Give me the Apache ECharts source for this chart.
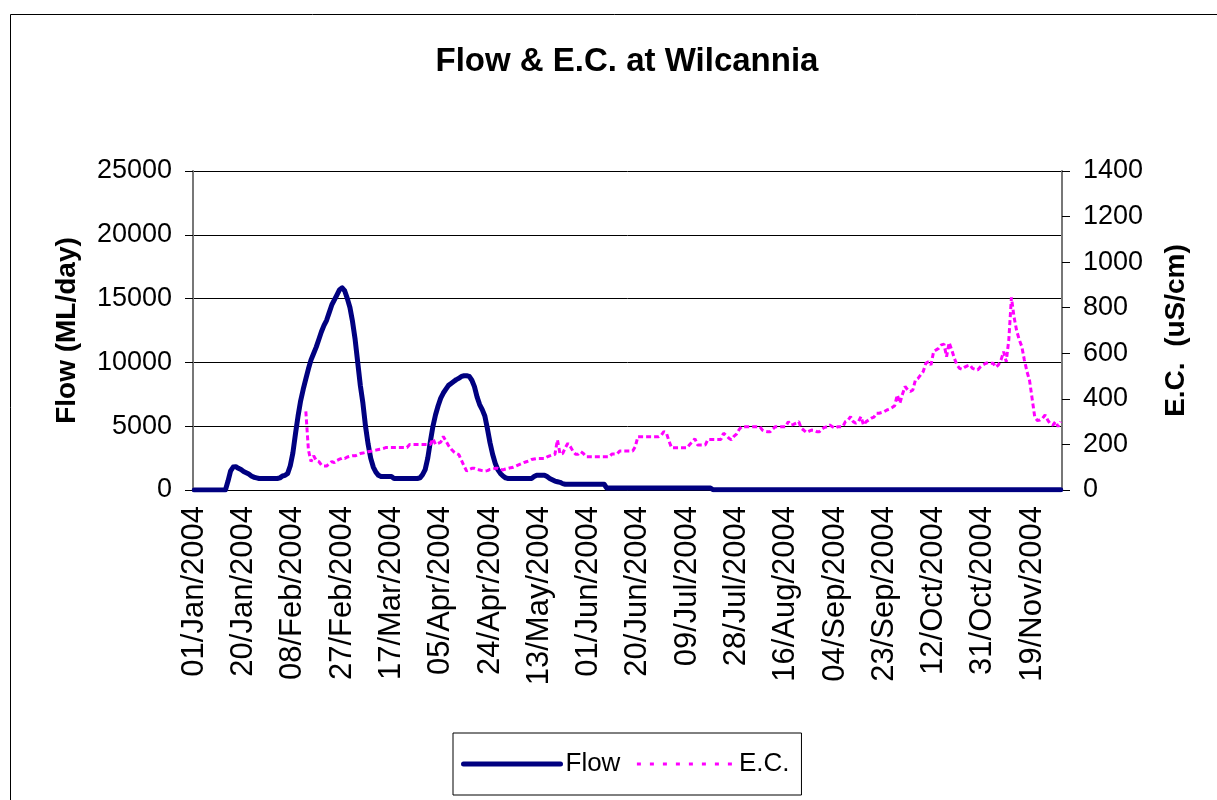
<!DOCTYPE html>
<html>
<head>
<meta charset="utf-8">
<script src="https://cdn.jsdelivr.net/npm/echarts@6/dist/echarts.min.js"></script>
<style>
html,body{margin:0;padding:0;background:#fff;}
#chart{width:1217px;height:800px;}
</style>
</head>
<body>
<div id="chart"></div>
<script>
// Flow (ML/day), one value per day from 01/Jan/2004 to 30/Nov/2004
const flowValues = [
  0,0,0,0,0,0,0,0,0,0,
  0,0,0,700,1500,1800,1830,1700,1600,1450,
  1350,1250,1100,1000,950,900,900,900,900,900,
  900,900,900,950,1100,1150,1300,1900,2900,4400,
  5800,7000,7900,8700,9500,10200,10700,11200,11800,12400,
  12900,13300,13900,14500,14900,15300,15700,15850,15600,15000,
  14300,13200,11800,10000,8200,6800,5000,3600,2500,1800,
  1400,1150,1050,1050,1050,1050,1050,900,900,900,
  900,900,900,900,900,900,900,950,1200,1600,
  2500,3800,5000,5900,6600,7200,7600,7900,8200,8350,
  8500,8650,8750,8900,8950,8950,8900,8600,8100,7300,
  6700,6300,5800,4800,3700,2800,2100,1600,1300,1100,
  950,900,900,900,900,900,900,900,900,900,
  900,1050,1150,1150,1150,1150,1050,900,800,700,
  650,600,500,450,450,450,450,450,450,450,
  450,450,450,450,450,450,450,450,450,150,
  150,150,150,150,150,150,150,150,150,150,
  150,150,150,150,150,150,150,150,150,150,
  150,150,150,150,150,150,150,150,150,150,
  150,150,150,150,150,150,150,150,150,150,
  20,20,20,20,20,20,20,20,20,20,
  20,20,20,20,20,20,20,20,20,20,
  20,20,20,20,20,20,20,20,20,20,
  20,20,20,20,20,20,20,20,20,20,
  20,20,20,20,20,20,20,20,20,20,
  20,20,20,20,20,20,20,20,20,20,
  20,20,20,20,20,20,20,20,20,20,
  20,20,20,20,20,20,20,20,20,20,
  20,20,20,20,20,20,20,20,20,20,
  20,20,20,20,20,20,20,20,20,20,
  20,20,20,20,20,20,20,20,20,20,
  20,20,20,20,20,20,20,20,20,20,
  20,20,20,20,20,20,20,20,20,20,
  20,20,20,20,20
];

// E.C. (uS/cm), one value per day (no readings before mid-February)
const ecValues = [
  null,null,null,null,null,null,null,null,null,null,
  null,null,null,null,null,null,null,null,null,null,
  null,null,null,null,null,null,null,null,null,null,
  null,null,null,null,null,null,null,null,null,null,
  null,null,null,345,175,125,150,130,125,110,
  105,105,115,125,120,130,135,140,138,145,
  148,150,150,155,160,162,165,168,170,173,
  175,178,180,183,187,187,187,187,187,187,
  187,187,187,200,200,200,200,200,200,200,
  200,200,225,200,205,210,235,215,195,180,
  168,160,155,130,105,83,90,95,95,90,
  88,85,83,85,90,92,95,95,90,88,
  92,95,98,100,105,110,115,120,124,128,
  134,136,138,138,138,138,145,150,154,156,
  220,158,160,185,205,190,170,157,157,168,
  160,146,146,146,146,146,146,146,146,146,
  146,158,158,158,171,171,171,171,171,171,
  190,234,234,234,234,234,234,234,234,234,
  240,256,250,215,185,185,185,185,185,185,
  185,200,212,225,198,198,198,198,222,222,
  222,222,222,222,249,240,228,220,235,245,
  265,278,278,278,278,278,278,278,278,263,
  258,256,256,268,278,278,278,278,278,300,
  285,288,293,300,271,262,252,258,263,262,
  256,256,268,275,278,285,278,271,278,278,
  278,300,307,322,300,293,300,322,285,300,
  307,315,320,337,337,340,344,351,355,362,
  370,417,381,420,454,440,432,439,483,490,
  505,520,556,563,549,607,615,622,637,640,
  585,647,615,578,549,534,530,539,545,549,
  534,530,527,540,549,555,559,556,556,539,
  549,571,607,563,660,845,760,700,660,630,
  570,520,480,400,320,305,307,315,329,307,
  290,285,300,278,300
];

const monthNames = ['Jan','Feb','Mar','Apr','May','Jun','Jul','Aug','Sep','Oct','Nov','Dec'];
const dayCount = flowValues.length;
const categories = [];
for (let i = 0; i < dayCount; i++) {
  const d = new Date(Date.UTC(2004, 0, 1 + i));
  const dd = String(d.getUTCDate()).padStart(2, '0');
  categories.push(dd + '/' + monthNames[d.getUTCMonth()] + '/' + d.getUTCFullYear());
}

const FONT = '"Liberation Sans", Arial, sans-serif';
const plain = v => String(v);
const chart = echarts.init(document.getElementById('chart'), null, {renderer: 'canvas'});
chart.setOption({
  animation: false,
  backgroundColor: '#fff',
  textStyle: {fontFamily: FONT, color: '#000'},
  graphic: [{
    type: 'rect', silent: true, z: -10,
    shape: {x: 10.5, y: 14.5, width: 1300, height: 900},
    style: {fill: 'none', stroke: '#000', lineWidth: 1}
  }],
  title: {
    text: 'Flow & E.C. at Wilcannia',
    left: 622, top: 40, textAlign: 'center',
    textStyle: {fontFamily: FONT, fontWeight: 'bold', fontSize: 33, color: '#000'}
  },
  legend: {
    left: 453, top: 733,
    orient: 'horizontal',
    padding: [18, 12, 18, 8],
    borderColor: '#000', borderWidth: 1,
    itemWidth: 97, itemHeight: 14, itemGap: 15,
    textStyle: {fontFamily: FONT, fontSize: 26, color: '#000'},
    data: [
      {name: 'Flow', itemStyle: {opacity: 0}, lineStyle: {color: '#000080', width: 5, cap: 'round'}},
      {name: 'E.C.', itemStyle: {opacity: 0}, lineStyle: {color: '#ff00ff', width: 3, type: [4, 9]}}
    ]
  },
  grid: {left: 193, right: 155, top: 171, bottom: 310, containLabel: false},
  xAxis: {
    type: 'category',
    data: categories,
    boundaryGap: true,
    axisLine: {lineStyle: {color: '#000', width: 1}},
    axisTick: {interval: 0, length: 7, lineStyle: {color: '#000', width: 1}},
    axisLabel: {interval: 18, rotate: 90, margin: 16, fontSize: 31, fontFamily: FONT, color: '#000'},
    splitLine: {show: false}
  },
  yAxis: [{
    type: 'value', min: 0, max: 25000, interval: 5000,
    name: 'Flow (ML/day)', nameLocation: 'middle', nameGap: 112,
    nameTextStyle: {fontFamily: FONT, fontWeight: 'bold', fontSize: 28, color: '#000'},
    axisLine: {show: true, lineStyle: {color: '#777', width: 2}},
    axisTick: {show: true, length: 8, lineStyle: {color: '#000'}},
    axisLabel: {margin: 21, fontSize: 27, fontFamily: FONT, color: '#000', formatter: plain},
    splitLine: {show: true, lineStyle: {color: '#000', width: 1}}
  }, {
    type: 'value', min: 0, max: 1400, interval: 200, position: 'right',
    name: 'E.C.  (uS/cm)', nameLocation: 'middle', nameGap: 100, nameRotate: 90,
    nameTextStyle: {fontFamily: FONT, fontWeight: 'bold', fontSize: 28, color: '#000'},
    axisLine: {show: true, lineStyle: {color: '#777', width: 2}},
    axisTick: {show: true, length: 8, lineStyle: {color: '#000'}},
    axisLabel: {margin: 21, fontSize: 27, fontFamily: FONT, color: '#000', formatter: plain},
    splitLine: {show: false}
  }],
  series: [{
    name: 'Flow', type: 'line', yAxisIndex: 0,
    data: flowValues, symbol: 'none', smooth: false,
    lineStyle: {color: '#000080', width: 5, cap: 'round', join: 'round'},
    itemStyle: {color: '#000080'}, z: 2
  }, {
    name: 'E.C.', type: 'line', yAxisIndex: 1,
    data: ecValues, symbol: 'none', smooth: false, connectNulls: false,
    lineStyle: {color: '#ff00ff', width: 3, type: [5, 3]},
    itemStyle: {color: '#ff00ff'}, z: 3
  }]
});
</script>
</body>
</html>
